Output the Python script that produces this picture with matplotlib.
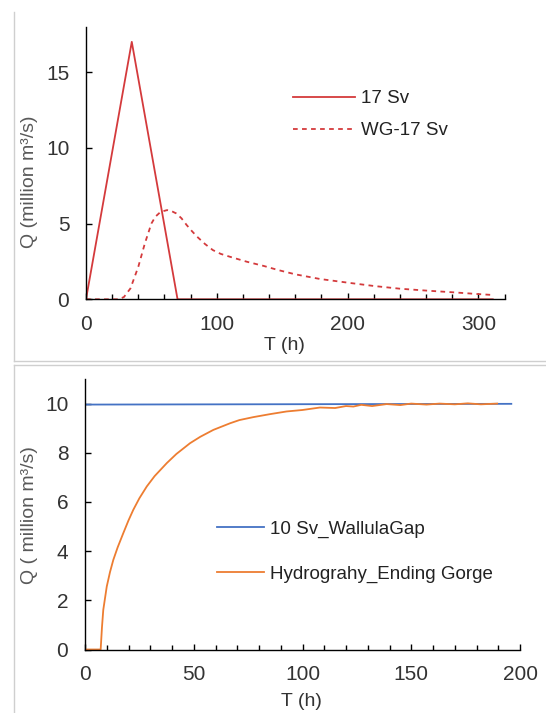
import matplotlib
matplotlib.use("Agg")
import matplotlib.pyplot as plt
from matplotlib.lines import Line2D
from matplotlib.ticker import MultipleLocator

plt.rcParams['font.family'] = ['Liberation Sans', 'DejaVu Sans']

# top panel: 17 Sv triangle and WG-17 Sv routed hydrograph
t_17 = [0, 35, 70, 311]
q_17 = [0, 17, 0, 0]

t_wg = [0, 25, 29, 34, 40, 45, 50, 53, 57, 62, 65, 69, 73, 77, 81, 85, 91, 97,
        103, 110, 123, 136, 147, 160, 179, 200, 220, 240, 261, 281, 299, 312]
q_wg = [0, 0, 0.15, 0.72, 2.15, 3.69, 5.0, 5.45, 5.77, 5.89, 5.84, 5.67, 5.35,
        4.9, 4.5, 4.13, 3.65, 3.25, 3.0, 2.81, 2.48, 2.2, 1.93, 1.65, 1.34, 1.1,
        0.88, 0.70, 0.57, 0.46, 0.35, 0.28]

# bottom panel: 10 Sv at Wallula Gap and hydrograph at end of gorge
t_wallula = [0, 196]
q_wallula = [9.96, 9.99]

t_gorge = [0, 7.2, 7.8, 8.4, 10, 11.5, 13, 15, 17.6, 20, 22.2, 25, 28.4, 32,
           37.6, 42, 48.3, 53, 59, 66.7, 71, 77.4, 85, 92.7, 100, 108, 115, 120,
           123.4, 127, 132, 138.7, 145, 150, 157, 163, 170, 176, 182, 189.5]
q_gorge = [0, 0, 0.9, 1.61, 2.56, 3.15, 3.64, 4.15, 4.73, 5.25, 5.68, 6.15,
           6.63, 7.05, 7.58, 7.95, 8.39, 8.65, 8.93, 9.2, 9.33, 9.45, 9.57, 9.68,
           9.74, 9.84, 9.82, 9.9, 9.88, 9.95, 9.9, 9.98, 9.94, 10.0, 9.96, 10.0,
           9.97, 10.01, 9.97, 10.0]

W, H = 546, 713
fig = plt.figure(figsize=(W / 100, H / 100), dpi=100)

TXT = '#333333'
LBL = '#595959'


def px_axes(l, t, r, b):
    return fig.add_axes([l / W, 1 - b / H, (r - l) / W, (b - t) / H])


def style(ax):
    for s in ['top', 'right']:
        ax.spines[s].set_visible(False)
    for s in ['left', 'bottom']:
        ax.spines[s].set_color('#000000')
        ax.spines[s].set_linewidth(1.0)
    ax.tick_params(which='both', direction='in', colors='#000000',
                   labelcolor=TXT, labelsize=15, width=1.0)
    ax.tick_params(axis='x', which='major', length=4.5, pad=11)
    ax.tick_params(axis='x', which='minor', length=3.5)
    ax.tick_params(axis='y', which='major', length=4, pad=12)


# panel frames
fig.add_artist(Line2D([13.5 / W, 13.5 / W], [1 - 12 / H, 1 - 361 / H], color='#cfcfcf', lw=1))
fig.add_artist(Line2D([13.5 / W, 1], [1 - 361 / H, 1 - 361 / H], color='#cfcfcf', lw=1))
fig.add_artist(Line2D([13.5 / W, 1], [1 - 365 / H, 1 - 365 / H], color='#cfcfcf', lw=1))
fig.add_artist(Line2D([13.5 / W, 13.5 / W], [1 - 365 / H, 0], color='#cfcfcf', lw=1))

# ---- top panel
ax1 = px_axes(86, 26.7, 504.5, 299.3)
ax1.plot(t_17, q_17, color='#D43A3C', lw=1.3, label='17 Sv')
ax1.plot(t_wg, q_wg, color='#D43A3C', lw=1.3, ls=(0, (2.6, 2.4)), label='WG-17 Sv')
ax1.set_xlim(0, 320)
ax1.set_ylim(0, 18)
ax1.xaxis.set_major_locator(MultipleLocator(100))
ax1.xaxis.set_minor_locator(MultipleLocator(20))
ax1.set_yticks([0, 5, 10, 15])
style(ax1)
ax1.set_xlabel('T (h)', fontsize=14, color=TXT)
ax1.xaxis.set_label_coords(0.473, -0.138)
ax1.set_ylabel('Q (million m³/s)', fontsize=14, color=LBL)
ax1.yaxis.set_label_coords(-0.115, 0.43)
ax1.legend(loc='center left', bbox_to_anchor=(0.494, 0.677), frameon=False,
           fontsize=13.5, handlelength=3.3, handletextpad=0.35, labelspacing=0.8,
           borderpad=0, borderaxespad=0, labelcolor='#222222')

# ---- bottom panel
ax2 = px_axes(85, 379, 520, 649.5)
ax2.plot(t_wallula, q_wallula, color='#4472C4', lw=1.3, label='10 Sv_WallulaGap')
ax2.plot(t_gorge, q_gorge, color='#ED7D31', lw=1.3, label='Hydrograhy_Ending Gorge')
ax2.set_xlim(0, 200)
ax2.set_ylim(0, 11)
ax2.xaxis.set_major_locator(MultipleLocator(50))
ax2.xaxis.set_minor_locator(MultipleLocator(10))
ax2.set_yticks([0, 2, 4, 6, 8, 10])
style(ax2)
ax2.set_xlabel('T (h)', fontsize=14, color=TXT)
ax2.xaxis.set_label_coords(0.497, -0.161)
ax2.set_ylabel('Q ( million m³/s)', fontsize=14, color=LBL)
ax2.yaxis.set_label_coords(-0.108, 0.497)
ax2.legend(loc='center left', bbox_to_anchor=(0.303, 0.3616), frameon=False,
           fontsize=13.5, handlelength=2.5, handletextpad=0.35, labelspacing=1.5,
           borderpad=0, borderaxespad=0, labelcolor='#222222')

fig.savefig('out.png', dpi=100)
